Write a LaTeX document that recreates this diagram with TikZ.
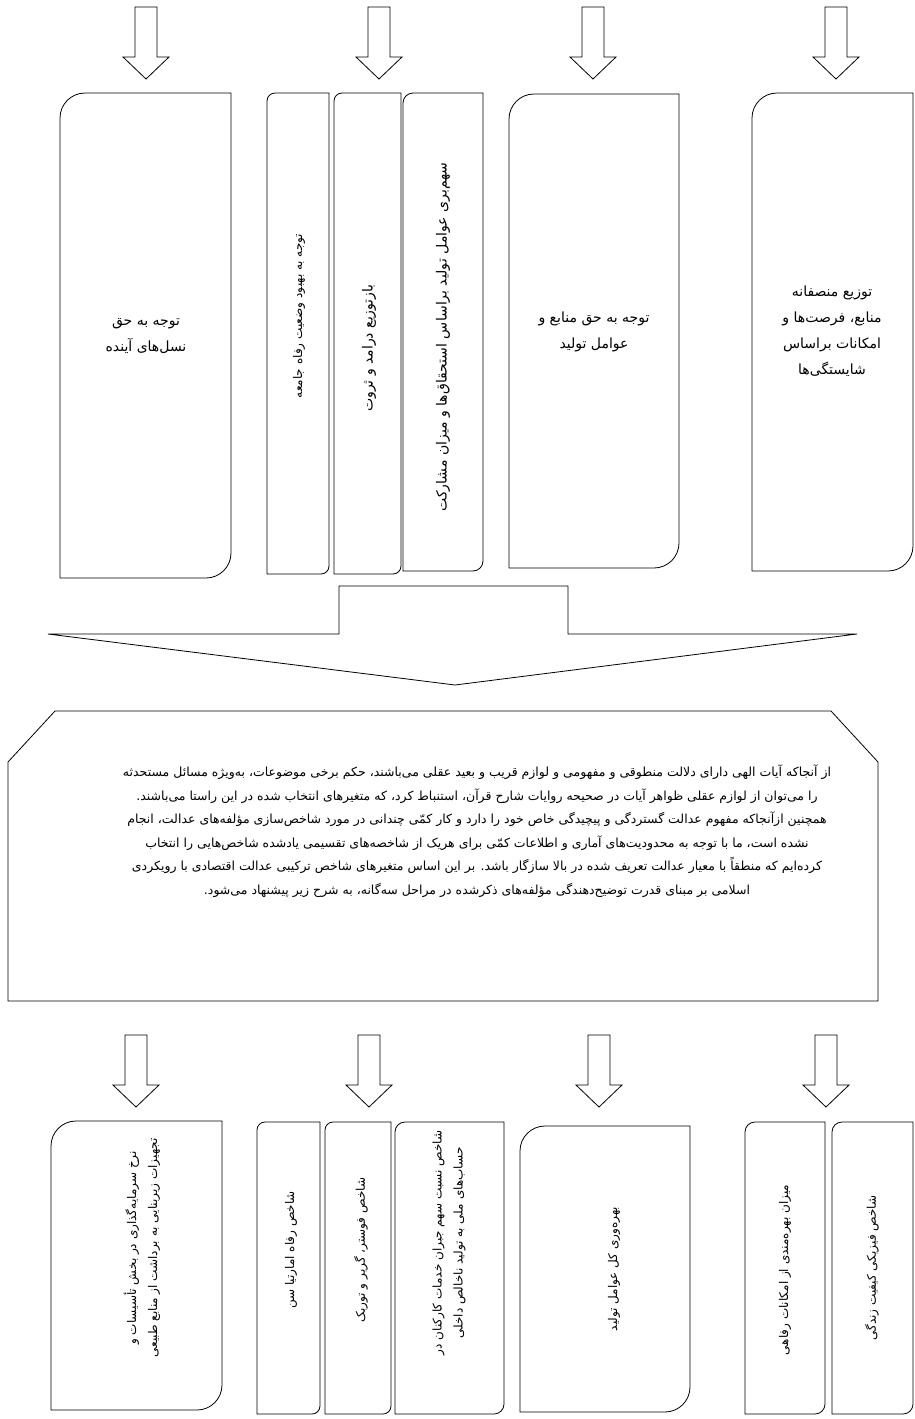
\documentclass[tikz,border=0pt]{standalone}
\usepackage{fontspec}
\newfontfamily\farsi[Script=Arabic]{DejaVu Sans}
\TeXXeTstate=1

\tikzset{
  boxline/.style={draw=black, line width=0.8pt},
  boxtext/.style={font=\farsi\fontsize{14}{26}\selectfont, align=center, inner sep=0pt},
  sidetext/.style={font=\farsi\fontsize{12}{21}\selectfont, align=center, rotate=90, inner sep=0pt},
  paratext/.style={font=\farsi\fontsize{12.5}{23.5}\selectfont, align=center, inner sep=0pt}
}

% block arrow pointing down, #1,#2 = tip
\newcommand{\fatarrow}[2]{%
  \draw[boxline, fill=white] (#1,#2) -- ++(-23,-22) -- ++(12,0) -- ++(0,-50)
    -- ++(22,0) -- ++(0,50) -- ++(12,0) -- cycle;}
% box with rounded top-left and bottom-right corners: x1,y1,x2,y2,r
\newcommand{\tabbox}[5]{%
  \draw[boxline] (#1,#4) -- (#1,#2+#5) arc[start angle=180, end angle=270, radius=#5]
    -- (#3,#2) -- (#3,#4-#5) arc[start angle=0, end angle=90, radius=#5] -- cycle;}

\begin{document}
\begin{tikzpicture}[x=1pt, y=-1pt]
    \fill[white] (0,0) rectangle (914,1419);
    \useasboundingbox (0,0) rectangle (914,1419);

    % Top arrows
    \fatarrow{146}{79}
    \fatarrow{379}{79}
    \fatarrow{593}{79}
    \fatarrow{836}{79}

    % Top boxes
    \tabbox{60}{93}{231}{578}{25}
    \tabbox{267}{93}{329}{574}{8}
    \tabbox{334}{93}{401}{574}{8}
    \tabbox{403}{93}{483}{571}{10}
    \tabbox{509}{94}{679}{568}{25}
    \tabbox{752}{93}{913}{571}{25}

    \node[boxtext] (future) at (146,336) {\beginR توجه به حق\endR\\\beginR نسل‌های آینده\endR};
    \node[sidetext] (welfare) at (299,316) {\beginR توجه به بهبود وضعیت رفاه جامعه\endR};
    \node[sidetext, font=\farsi\fontsize{14}{21}\selectfont] (redist) at (369,348) {\beginR بازتوزیع درامد و ثروت\endR};
    \node[sidetext, font=\farsi\fontsize{14}{21}\selectfont] (share) at (443,337) {\beginR سهم‌بری عوامل تولید براساس استحقاق‌ها و میزان مشارکت\endR};
    \node[boxtext] (factors) at (594,332) {\beginR توجه به حق منابع و\endR\\\beginR عوامل تولید\endR};
    \node[boxtext] (fair) at (832,331) {\beginR توزیع منصفانه\endR\\\beginR منابع، فرصت‌ها و\endR\\\beginR امکانات براساس\endR\\\beginR شایستگی‌ها\endR};

    % Merge arrow
    \draw[boxline] (48,634) -- (339,634) -- (339,586) -- (568,586) -- (568,634)
      -- (857,634) -- (455,685) -- cycle;

    % Paragraph box
    \draw[boxline] (8,1001) -- (8,762) -- (55,711) -- (831,711) -- (878,762)
      -- (878,1001) -- cycle;
    \node[paratext] (para) at (477,831) {%
      \beginR از آنجاکه آیات الهی دارای دلالت منطوقی و مفهومی و لوازم قریب و بعید عقلی می‌باشند، حکم برخی موضوعات، به‌ویژه مسائل مستحدثه\endR\\
      \beginR را می‌توان از لوازم عقلی ظواهر آیات در صحیحه روایات شارح قرآن، استنباط کرد، که متغیرهای انتخاب شده در این راستا می‌باشند.\endR\\
      \beginR همچنین ازآنجاکه مفهوم عدالت گستردگی و پیچیدگی خاص خود را دارد و کار کمّی چندانی در مورد شاخص‌سازی مؤلفه‌های عدالت، انجام\endR\\
      \beginR نشده است، ما با توجه به محدودیت‌های آماری و اطلاعات کمّی برای هریک از شاخصه‌های تقسیمی یادشده شاخص‌هایی را انتخاب\endR\\
      \beginR کرده‌ایم که منطقاً با معیار عدالت تعریف شده در بالا سازگار باشد. بر این اساس متغیرهای شاخص ترکیبی عدالت اقتصادی با رویکردی\endR\\
      \beginR اسلامی بر مبنای قدرت توضیح‌دهندگی مؤلفه‌های ذکرشده در مراحل سه‌گانه، به شرح زیر پیشنهاد می‌شود.\endR};

    % Bottom arrows
    \fatarrow{136}{1107}
    \fatarrow{369}{1107}
    \fatarrow{599}{1107}
    \fatarrow{826}{1107}

    % Bottom boxes
    \tabbox{51}{1121}{222}{1410}{25}
    \tabbox{257}{1122}{320}{1414}{8}
    \tabbox{325}{1122}{391}{1414}{8}
    \tabbox{395}{1122}{504}{1414}{10}
    \tabbox{520}{1126}{690}{1412}{25}
    \tabbox{745}{1122}{825}{1414}{10}
    \tabbox{832}{1122}{913}{1414}{10}

    \node[sidetext] (invest) at (142,1248) {\beginR نرخ سرمایه‌گذاری در بخش تأسیسات و\endR\\\beginR تجهیزات زیربنایی به برداشت از منابع طبیعی\endR};
    \node[sidetext] (sen) at (291,1250) {\beginR شاخص رفاه امارتیا سن\endR};
    \node[sidetext] (fgt) at (361,1250) {\beginR شاخص فوستر، گریر و توربک\endR};
    \node[sidetext] (wage) at (449,1243) {\beginR شاخص نسبت سهم جبران خدمات کارکنان در\endR\\\beginR حساب‌های ملی به تولید ناخالص داخلی\endR};
    \node[sidetext] (tfp) at (614,1269) {\beginR بهره‌وری کل عوامل تولید\endR};
    \node[sidetext] (access) at (785,1270) {\beginR میزان بهره‌مندی از امکانات رفاهی\endR};
    \node[sidetext] (pqli) at (872,1268) {\beginR شاخص فیزیکی کیفیت زندگی\endR};
\end{tikzpicture}
\end{document}
